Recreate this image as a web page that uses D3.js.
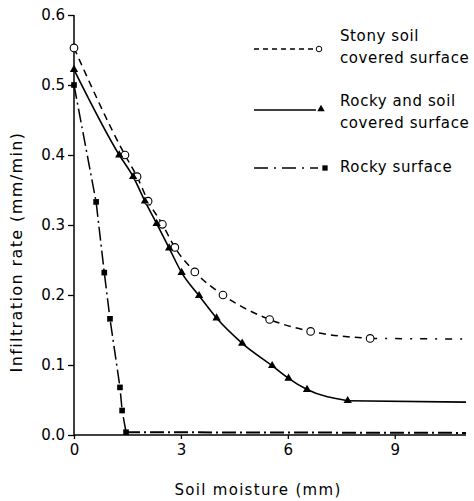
<!DOCTYPE html>
<html><head><meta charset="utf-8">
<script src="https://cdn.jsdelivr.net/npm/d3@7"></script>
<style>
html,body{margin:0;padding:0;background:#fff;}
svg{display:block;}
text{font-family:"DejaVu Sans",sans-serif;fill:#000;}
</style></head>
<body>
<svg id="c" width="474" height="501"></svg>
<script>
// ---- data ----
const stonyX = [0, 1.43, 1.77, 2.08, 2.48, 2.83, 3.39, 4.18, 5.49, 6.64, 8.31];
const stonyY = [0.553, 0.400, 0.369, 0.334, 0.301, 0.268, 0.233, 0.200, 0.165, 0.148, 0.138];
const stonyTailX = [8.31, 11];
const stonyTailY = [0.138, 0.137];

const rockySoilX = [0, 1.27, 1.66, 1.99, 2.32, 2.67, 3.02, 3.51, 4.00, 4.72, 5.56, 6.02, 6.54, 7.68];
const rockySoilY = [0.522, 0.400, 0.369, 0.334, 0.302, 0.267, 0.232, 0.199, 0.167, 0.131, 0.099, 0.081, 0.065, 0.049];
const rockySoilTailX = [7.68, 11];
const rockySoilTailY = [0.049, 0.047];

const rockyX = [0, 0.62, 0.85, 1.01, 1.29, 1.35, 1.46];
const rockyY = [0.500, 0.333, 0.232, 0.166, 0.068, 0.035, 0.004];
const rockyTailX = [1.46, 11];
const rockyTailY = [0.004, 0.003];

const xTicks = [0, 3, 6, 9];
const yTicks = [0, 0.1, 0.2, 0.3, 0.4, 0.5, 0.6];
const yTickLabels = ["0.0", "0.1", "0.2", "0.3", "0.4", "0.5", "0.6"];
const legendLabels = [["Stony soil", "covered surface"], ["Rocky and soil", "covered surface"], ["Rocky surface"]];

// ---- drawing ----
const svg = d3.select("#c");
const x = d3.scaleLinear().domain([0, 11]).range([74, 466]);
const y = d3.scaleLinear().domain([0, 0.6]).range([435, 15]);

const zip = (xs, ys) => xs.map((v, i) => [v, ys[i]]);
const line = d3.line().x(d => x(d[0])).y(d => y(d[1]));
const smooth = d3.line().x(d => x(d[0])).y(d => y(d[1])).curve(d3.curveMonotoneX);

// axes
const yAxis = d3.axisLeft(y).tickValues(yTicks).tickFormat((d, i) => yTickLabels[i]).tickSize(6).tickPadding(3);
const gy = svg.append("g").attr("transform", `translate(${x(0)},0)`).call(yAxis);
const xAxis = d3.axisBottom(x).tickValues(xTicks).tickFormat(d3.format("d")).tickSize(4).tickPadding(5);
const gx = svg.append("g").attr("transform", `translate(0,${y(0)})`).call(xAxis);
[gx, gy].forEach(g => {
  g.select(".domain").attr("stroke", "#000").attr("stroke-width", 1.5);
  g.selectAll(".tick line").attr("stroke", "#000").attr("stroke-width", 1.3);
  g.selectAll(".tick text").style("font-size", "15px").style("font-family", "DejaVu Sans");
});
gx.select(".domain").attr("d", `M${x(0)},0H${x(11)}`);
gy.select(".domain").attr("d", `M0,${y(0.6)}V${y(0)}`);

// axis titles
svg.append("text").attr("x", 258).attr("y", 495).attr("text-anchor", "middle")
  .style("font-size", "15px").style("letter-spacing", "1.3px").text("Soil moisture (mm)");
svg.append("text").attr("transform", "translate(22,252) rotate(-90)").attr("text-anchor", "middle")
  .style("font-size", "16px").style("letter-spacing", "1.4px").text("Infiltration rate (mm/min)");

const stonyDash = "7,5";
const rockyDash = "14,4,2,4";

// series lines
svg.append("path").attr("d", smooth(zip(stonyX, stonyY))).attr("fill", "none").attr("stroke", "#000")
  .attr("stroke-width", 1.5).attr("stroke-dasharray", stonyDash);
svg.append("path").attr("d", line(zip(stonyTailX, stonyTailY))).attr("fill", "none").attr("stroke", "#000")
  .attr("stroke-width", 1.5).attr("stroke-dasharray", "7,8,2,8");
svg.append("path").attr("d", smooth(zip(rockySoilX, rockySoilY))).attr("fill", "none").attr("stroke", "#000")
  .attr("stroke-width", 1.6);
svg.append("path").attr("d", line(zip(rockySoilTailX, rockySoilTailY))).attr("fill", "none").attr("stroke", "#000")
  .attr("stroke-width", 1.6);
svg.append("path").attr("d", line(zip(rockyX, rockyY))).attr("fill", "none").attr("stroke", "#000")
  .attr("stroke-width", 1.5).attr("stroke-dasharray", rockyDash);
svg.append("path").attr("d", line(zip(rockyTailX, rockyTailY))).attr("fill", "none").attr("stroke", "#000")
  .attr("stroke-width", 2).attr("stroke-dasharray", rockyDash);

// markers
const tri = d3.symbol().type(d3.symbolTriangle).size(30);
const sq = d3.symbol().type(d3.symbolSquare).size(32);
svg.append("g").selectAll("circle").data(zip(stonyX, stonyY)).join("circle")
  .attr("cx", d => x(d[0])).attr("cy", d => y(d[1])).attr("r", 3.8)
  .attr("fill", "#fff").attr("stroke", "#000").attr("stroke-width", 1.1);
svg.append("g").selectAll("path").data(zip(rockySoilX, rockySoilY)).join("path")
  .attr("d", tri).attr("transform", d => `translate(${x(d[0])},${y(d[1])})`).attr("fill", "#000");
svg.append("g").selectAll("path").data(zip(rockyX, rockyY)).join("path")
  .attr("d", sq).attr("transform", d => `translate(${x(d[0])},${y(d[1])})`).attr("fill", "#000");

// legend
const lg = svg.append("g");
const rows = [
  {ly: 49, lx2: 315, mx: 319, text: [40.5, 62.5]},
  {ly: 110, lx2: 316, mx: 321, text: [106, 128]},
  {ly: 168, lx2: 318, mx: 325, text: [171.5]}
];
rows.forEach((r, i) => {
  const ln = lg.append("line").attr("x1", 254).attr("x2", r.lx2).attr("y1", r.ly).attr("y2", r.ly)
    .attr("stroke", "#000").attr("stroke-width", 1.3);
  if (i === 0) ln.attr("stroke-dasharray", "5,4");
  if (i === 2) ln.attr("stroke-dasharray", "14,6,2,6");
  if (i === 0) lg.append("circle").attr("cx", r.mx).attr("cy", r.ly).attr("r", 2.8)
    .attr("fill", "#fff").attr("stroke", "#000").attr("stroke-width", 1);
  if (i === 1) lg.append("path").attr("d", d3.symbol().type(d3.symbolTriangle).size(24)())
    .attr("transform", `translate(${r.mx},${r.ly - 1})`);
  if (i === 2) lg.append("path").attr("d", d3.symbol().type(d3.symbolSquare).size(28)())
    .attr("transform", `translate(${r.mx},${r.ly})`);
  legendLabels[i].forEach((t, j) => {
    lg.append("text").attr("x", 340).attr("y", r.text[j]).style("font-size", "15px")
      .style("letter-spacing", "0.6px").text(t);
  });
});
</script>
</body></html>
